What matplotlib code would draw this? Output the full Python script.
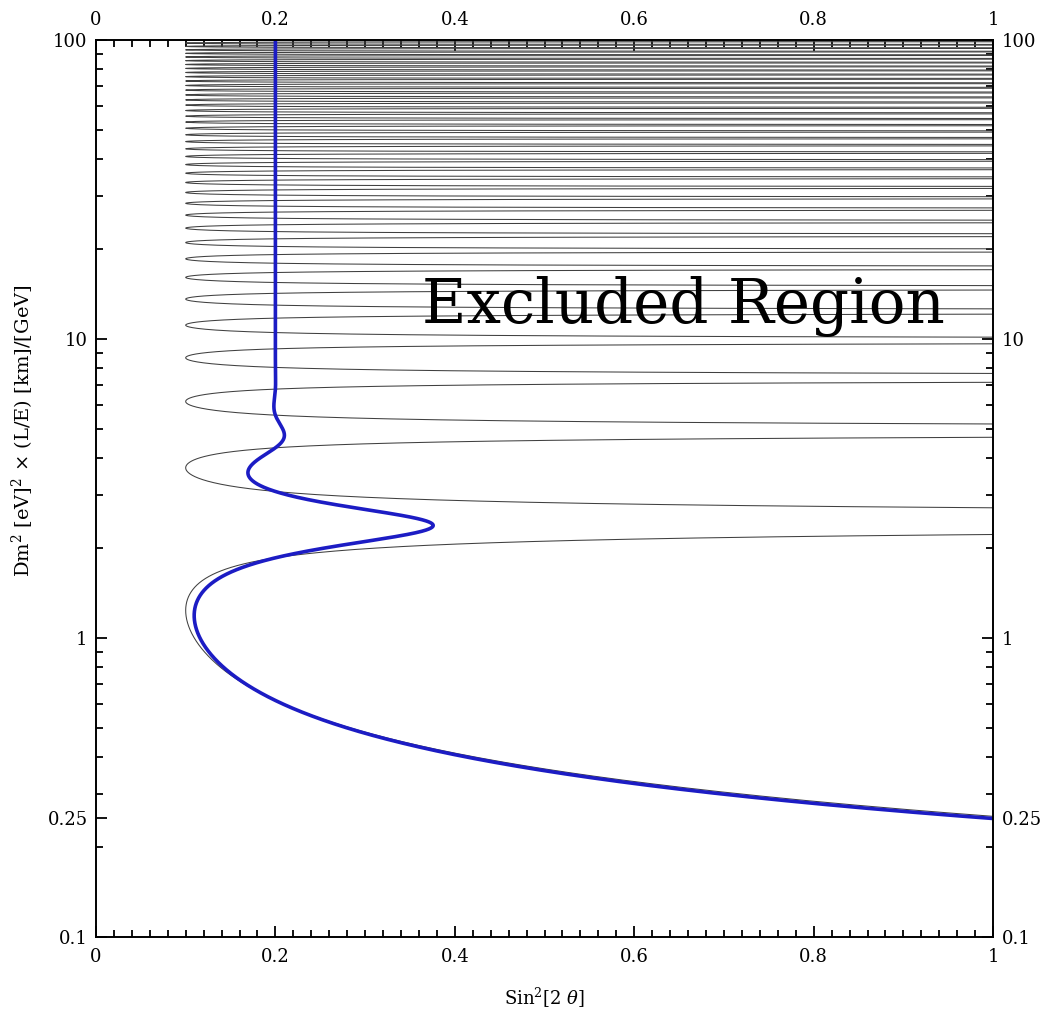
#!/usr/bin/env python3
"""Exclusion contours for two-flavour oscillation"""
import numpy as np
import matplotlib.pyplot as plt

# values
prob_limit = 0.1          # lobes touch Sin^2[2 theta] = 0.1
phase_coeff = 1.27        # lobe tips at 1.24, 3.71, 6.18 ...
smear_sigma = 0.2         # blue curve: peak 0.375 at 2.4, dip 0.11 at 1.2
le_min, le_max = 0.1, 100
x_ticks = [0, 0.2, 0.4, 0.6, 0.8, 1]
x_tick_labels = ['0', '0.2', '0.4', '0.6', '0.8', '1']
y_ticks = [0.1, 0.25, 1, 10, 100]
y_tick_labels = ['0.1', '0.25', '1', '10', '100']
label_text = 'Excluded Region'

plt.rcParams['font.family'] = ['DejaVu Serif']
plt.rcParams['mathtext.fontset'] = 'dejavuserif'

fig = plt.figure(figsize=(10.42, 10.15), dpi=100)
ax = fig.add_axes([0.0921, 0.0768, 0.861, 0.8837])

# black lobes, one per half period of the oscillation
t0 = np.arcsin(np.sqrt(prob_limit))
t = np.linspace(t0, np.pi - t0, 600)
n_lobes = int(le_max * phase_coeff / np.pi) + 2
for n in range(n_lobes):
    le = (n * np.pi + t) / phase_coeff
    s2 = prob_limit / np.sin(t) ** 2
    ax.plot(s2, le, color='#404040', lw=0.75)

# blue curve, oscillation averaged over a spread of L/E
le = np.logspace(np.log10(le_min), np.log10(le_max), 200000)
arg = 2 * phase_coeff * le
mean_sin2 = 0.5 * (1 - np.cos(arg) * np.exp(-(arg * smear_sigma) ** 2 / 2))
s2 = prob_limit / mean_sin2
s2[s2 > 1.02] = np.nan
ax.plot(s2, le, color='#1c1cc4', lw=2.6, solid_capstyle='butt')

ax.text(0.655, 12.9, label_text, fontsize=44, ha='center', va='center',
        transform=ax.get_yaxis_transform())

ax.set_yscale('log')
ax.set_xlim(0, 1)
ax.set_ylim(le_min, le_max)
ax.set_xticks(x_ticks)
ax.set_xticklabels(x_tick_labels)
ax.set_xticks(np.arange(0, 1.0001, 0.02), minor=True)
ax.set_yticks(y_ticks)
ax.set_yticklabels(y_tick_labels)
ax.tick_params(which='both', direction='in', top=True, right=True,
               labeltop=True, labelright=True, labelsize=13, width=1.3)
ax.tick_params(axis='x', which='both', pad=8)
ax.tick_params(axis='y', which='both', pad=6)
ax.tick_params(which='major', length=8)
ax.tick_params(which='minor', length=5)
for sp in ax.spines.values():
    sp.set_linewidth(1.4)

ax.set_xlabel(r'Sin$^2$[2 $\theta$]', fontsize=13, labelpad=14)
ax.set_ylabel(r'Dm$^2$ [eV]$^2$ $\times$ (L/E) [km]/[GeV]', fontsize=14)
ax.yaxis.set_label_coords(-0.067, 0.565)

fig.savefig('out.png', dpi=100)
